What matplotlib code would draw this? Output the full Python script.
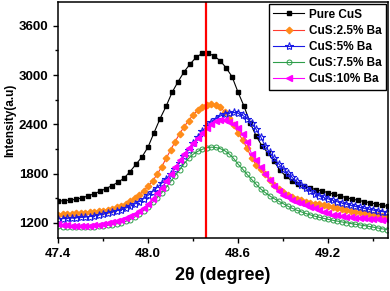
import matplotlib
matplotlib.use('Agg')
import matplotlib.pyplot as plt
import numpy as np
from matplotlib.ticker import MultipleLocator

plt.rcParams['font.family'] = ['Liberation Sans', 'DejaVu Sans']
plt.rcParams['font.weight'] = 'bold'

# 2-theta scan grids (degree)
tt_pure = np.round(47.40 + 0.04 * np.arange(56), 2)
tt_dop = np.round(47.40 + 0.03 * np.arange(74), 2)

pure_cus = [1465, 1470, 1477, 1488, 1505, 1528, 1555, 1585, 1618, 1655,
            1695, 1745, 1825, 1915, 2005, 2125, 2300, 2470, 2620, 2790,
            2920, 3040, 3135, 3215, 3265, 3265, 3235, 3175, 3090, 2980,
            2790, 2620, 2420, 2260, 2135, 2050, 1950, 1840, 1765, 1710,
            1670, 1645, 1625, 1605, 1588, 1568, 1548, 1528, 1508, 1490,
            1475, 1460, 1445, 1430, 1415, 1400]

ba_2p5 = [1300, 1303, 1306, 1310, 1314, 1318, 1323, 1328, 1334, 1341,
          1350, 1360, 1372, 1388, 1408, 1432, 1462, 1498, 1540, 1590,
          1645, 1710, 1790, 1880, 1985, 2085, 2190, 2285, 2370, 2445,
          2515, 2570, 2615, 2640, 2650, 2640, 2610, 2555, 2480, 2390,
          2300, 2210, 2110, 1990, 1910, 1860, 1790, 1720, 1660, 1610,
          1570, 1538, 1512, 1492, 1474, 1460, 1447, 1435, 1424, 1413,
          1402, 1390, 1378, 1368, 1358, 1348, 1338, 1328, 1318, 1308,
          1298, 1290, 1282, 1275]

ba_5 = [1250, 1252, 1255, 1258, 1262, 1266, 1271, 1277, 1285, 1295,
        1307, 1320, 1334, 1348, 1362, 1380, 1402, 1428, 1458, 1494,
        1535, 1580, 1630, 1680, 1735, 1795, 1860, 1930, 2010, 2090,
        2170, 2245, 2315, 2375, 2425, 2465, 2500, 2525, 2540, 2545,
        2535, 2510, 2470, 2415, 2340, 2250, 2140, 2060, 1985, 1920,
        1862, 1808, 1755, 1705, 1660, 1620, 1585, 1555, 1530, 1510,
        1492, 1475, 1458, 1443, 1428, 1413, 1400, 1388, 1376, 1365,
        1355, 1346, 1338, 1330]

ba_7p5 = [1160, 1155, 1152, 1150, 1150, 1150, 1151, 1153, 1155, 1159,
          1164, 1170, 1178, 1188, 1200, 1218, 1240, 1270, 1308, 1350,
          1398, 1450, 1505, 1565, 1630, 1700, 1775, 1845, 1920, 1985,
          2035, 2070, 2095, 2115, 2122, 2118, 2105, 2080, 2040, 1985,
          1915, 1855, 1790, 1730, 1670, 1615, 1570, 1530, 1495, 1465,
          1435, 1405, 1378, 1355, 1335, 1315, 1298, 1282, 1268, 1255,
          1243, 1232, 1222, 1212, 1202, 1192, 1183, 1175, 1167, 1158,
          1148, 1138, 1128, 1118]

ba_10 = [1185, 1175, 1168, 1163, 1160, 1160, 1162, 1165, 1170, 1177,
         1186, 1196, 1208, 1222, 1238, 1256, 1278, 1305, 1340, 1380,
         1430, 1495, 1565, 1630, 1705, 1790, 1875, 1960, 2040, 2110,
         2175, 2235, 2290, 2350, 2405, 2435, 2448, 2448, 2432, 2405,
         2355, 2285, 2180, 2040, 1960, 1880, 1800, 1725, 1655, 1590,
         1545, 1510, 1482, 1458, 1436, 1415, 1395, 1375, 1355, 1335,
         1315, 1300, 1290, 1282, 1276, 1270, 1265, 1260, 1256, 1252,
         1248, 1244, 1240, 1236]

ref_line = 48.385

fig = plt.figure(figsize=(3.9, 2.91), dpi=100)
ax = fig.add_axes([0.149, 0.182, 0.846, 0.811])

ax.plot(tt_pure, pure_cus, '-s', color='black', lw=0.8, ms=3.3, label='Pure CuS')
ax.plot(tt_dop, ba_2p5, '-D', color='#FF3B2F', mfc='#FF8C1A', mec='#FF8C1A', lw=0.8, ms=3.3,
        label='CuS:2.5% Ba')
ax.plot(tt_dop, ba_5, '-*', color='#1A1AE6', mfc='none', mec='#1A1AE6', lw=0.8, ms=6, mew=0.8,
        label='CuS:5% Ba')
ax.plot(tt_dop, ba_7p5, '-o', color='#2E9E4A', mfc='none', mec='#2E9E4A', lw=0.8, ms=3.6, mew=0.7,
        label='CuS:7.5% Ba')
ax.plot(tt_dop, ba_10, '-<', color='#FF00FF', lw=0.8, ms=4.2, label='CuS:10% Ba')

ax.axvline(ref_line, color='red', lw=1.6)

ax.set_xlim(47.4, 49.6)
ax.set_ylim(1015, 3890)
ax.xaxis.set_major_locator(MultipleLocator(0.6))
ax.xaxis.set_minor_locator(MultipleLocator(0.3))
ax.yaxis.set_major_locator(MultipleLocator(600))
ax.yaxis.set_minor_locator(MultipleLocator(300))
ax.xaxis.set_major_formatter(matplotlib.ticker.FormatStrFormatter('%.1f'))
ax.tick_params(which='major', direction='out', length=3.5, width=1, labelsize=9.5)
ax.tick_params(which='minor', direction='out', length=2, width=1)
for sp in ax.spines.values():
    sp.set_linewidth(1.1)

ax.set_xlabel('2\u03b8 (degree)', fontsize=13, fontweight='bold', labelpad=5)
ax.set_ylabel('Intensity(a.u)', fontsize=8.5, fontweight='bold', labelpad=2)

leg = ax.legend(loc='upper right', fontsize=8.5, frameon=True, fancybox=False,
                edgecolor='black', framealpha=1, handlelength=2.6, borderpad=0.4,
                labelspacing=0.35, borderaxespad=0.15, handletextpad=0.4)
leg.get_frame().set_linewidth(1.0)
for t in leg.get_texts():
    t.set_fontweight('bold')

fig.savefig('out.png', dpi=100)
